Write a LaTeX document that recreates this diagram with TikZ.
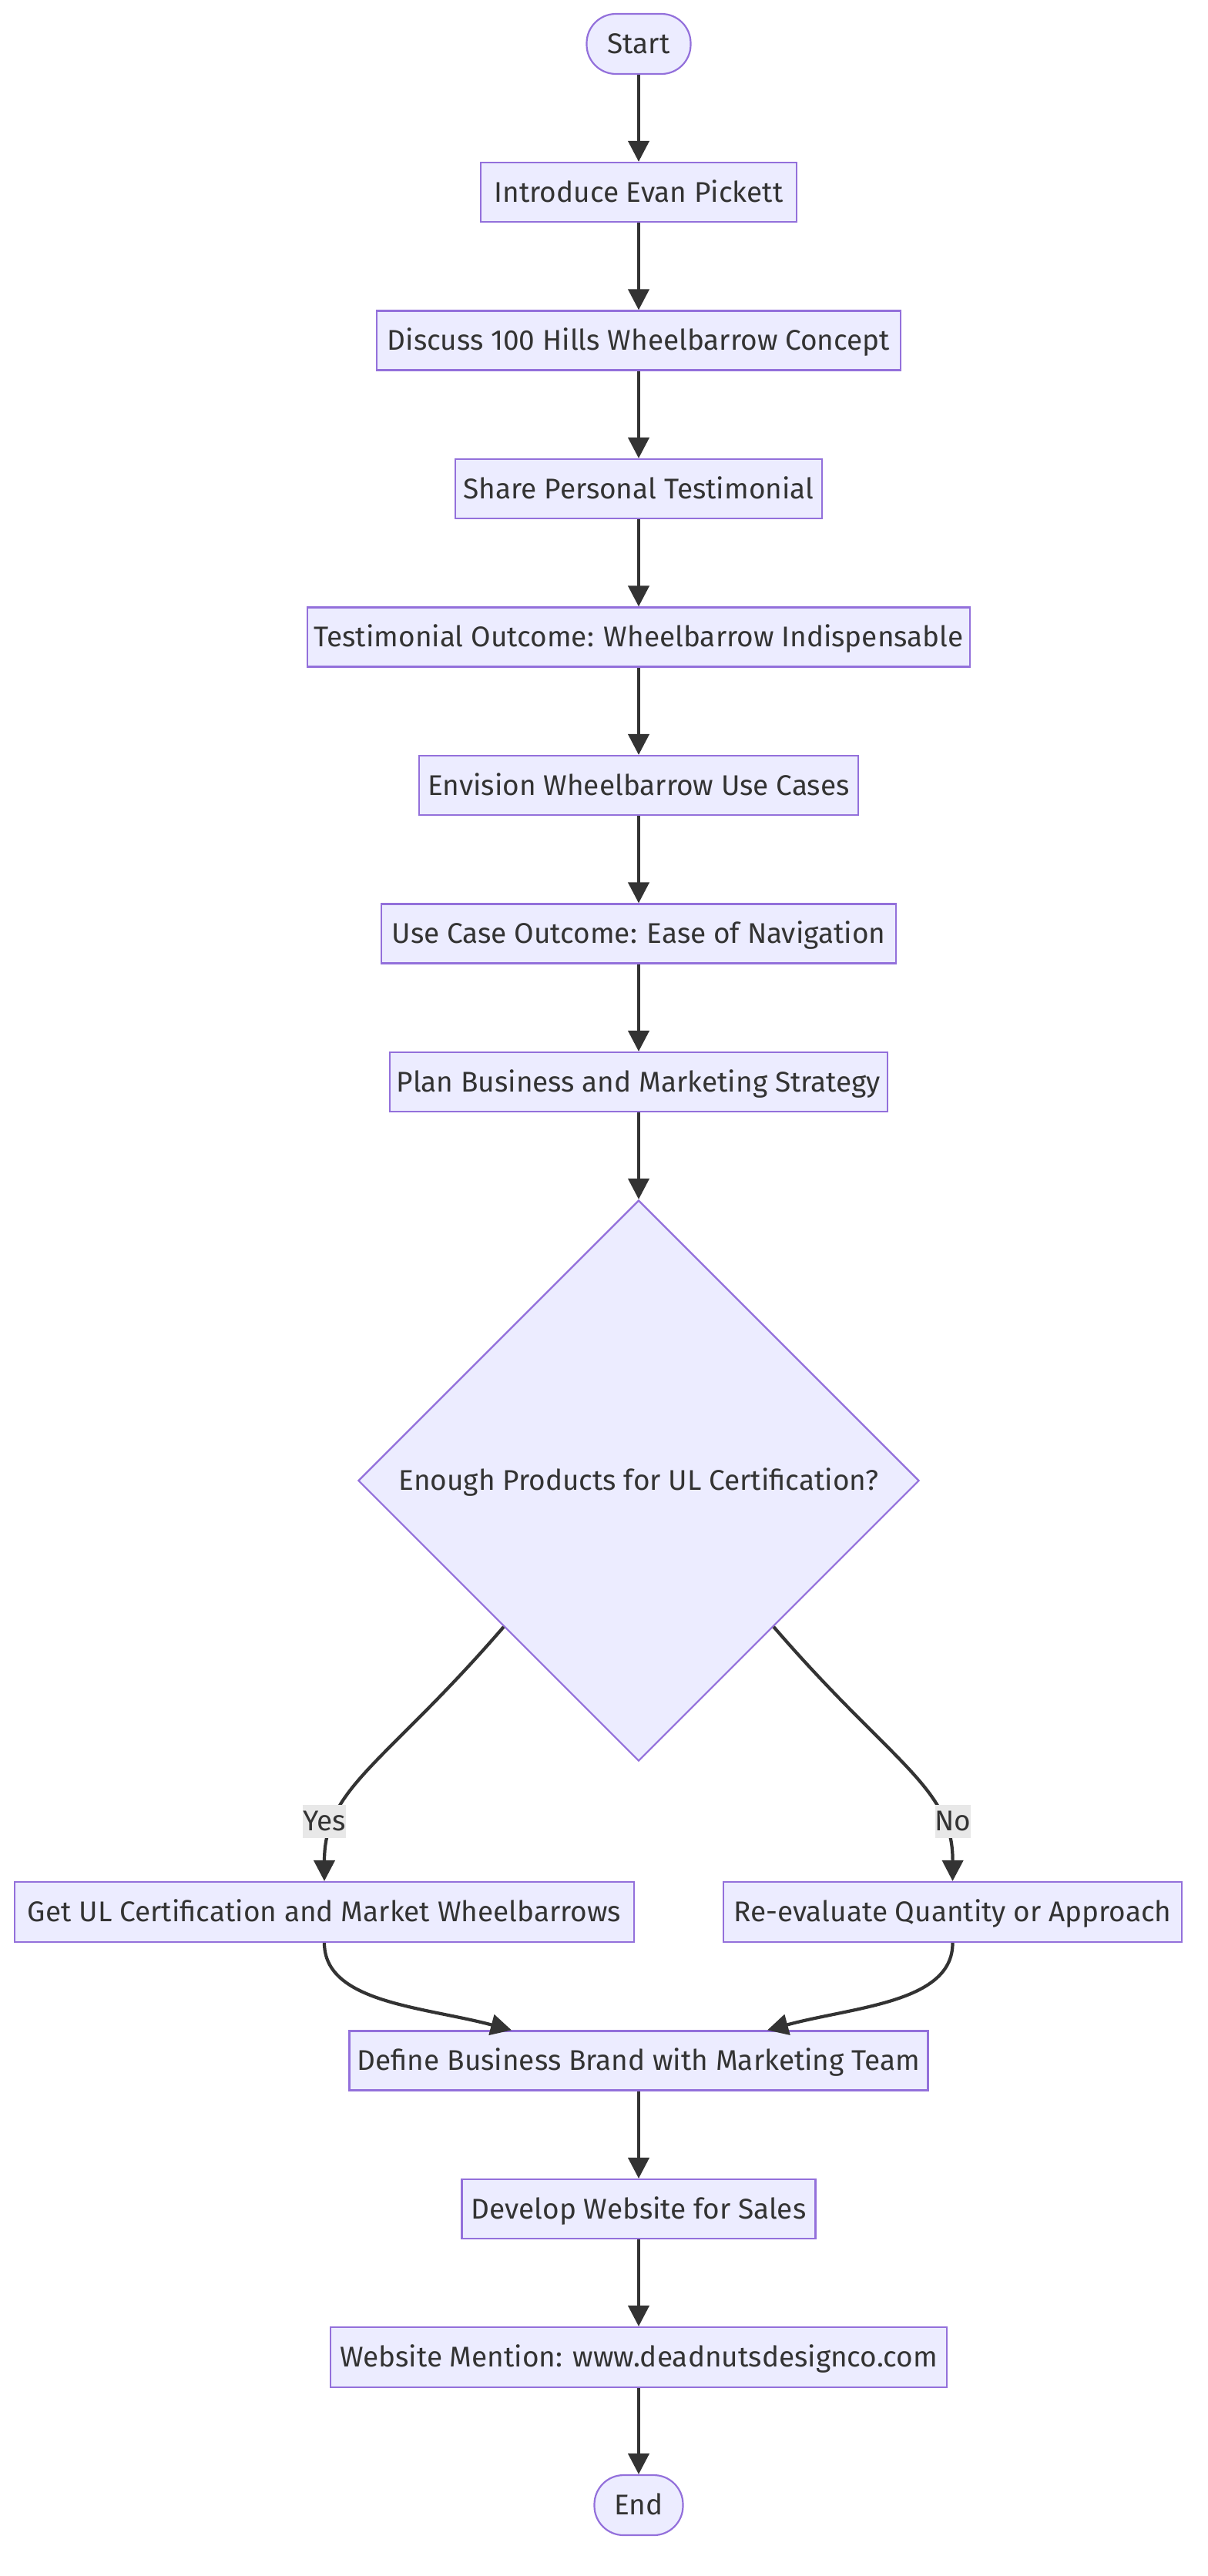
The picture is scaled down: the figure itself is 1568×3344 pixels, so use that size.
\documentclass[tikz,border=0pt]{standalone}
\usepackage{fontspec}
\setmainfont{Fira Sans}
\usetikzlibrary{shapes.geometric,arrows.meta,calc}
\definecolor{nodefill}{HTML}{ECECFF}
\definecolor{nodeline}{HTML}{9370DB}
\definecolor{edgecol}{HTML}{333333}
\definecolor{labelbg}{HTML}{E8E8E8}
\tikzset{
  every node/.style={font=\fontsize{37}{44}\selectfont, text=edgecol},
  procbox/.style={draw=nodeline, fill=nodefill, line width=2.2pt, rectangle,
    minimum height=77pt, inner sep=0pt, text height=30pt, text depth=4.5pt},
  termbox/.style={procbox, rounded corners=38pt, minimum height=78pt},
  decbox/.style={draw=nodeline, fill=nodefill, line width=2.2pt, diamond, aspect=1,
    minimum width=728pt, minimum height=728pt, inner sep=0pt, text height=30pt, text depth=4.5pt},
  edgelabel/.style={fill=labelbg, inner sep=0pt, minimum height=43pt, text height=30pt, text depth=4.5pt},
  arr/.style={draw=edgecol, line width=4.2pt, -{Triangle[length=27pt,width=27pt]}},
}
\begin{document}
\begin{tikzpicture}[x=1pt,y=-1pt]
\useasboundingbox (0,0) rectangle (1568,3344);
\node[termbox, minimum width=135pt] (start) at (829,57) {Start};
\node[procbox, minimum width=410pt] (intro) at (829,249.5) {Introduce Evan Pickett};
\node[procbox, minimum width=680pt] (discuss) at (829,442) {Discuss 100 Hills Wheelbarrow Concept};
\node[procbox, minimum width=476pt] (share) at (829,634.5) {Share Personal Testimonial};
\node[procbox, minimum width=860pt] (outcome) at (829,827) {Testimonial Outcome: Wheelbarrow Indispensable};
\node[procbox, minimum width=570pt] (envision) at (829,1019.5) {Envision Wheelbarrow Use Cases};
\node[procbox, minimum width=668pt] (usecase) at (829,1212) {Use Case Outcome: Ease of Navigation};
\node[procbox, minimum width=646pt] (plan) at (829,1404.5) {Plan Business and Marketing Strategy};
\node[decbox] (dec) at (829,1922) {Enough Products for UL Certification?};
\node[procbox, minimum width=804pt, minimum height=78pt] (getul) at (421,2482) {Get UL Certification and Market Wheelbarrows};
\node[procbox, minimum width=595pt, minimum height=78pt] (reeval) at (1236.5,2482) {Re-evaluate Quantity or Approach};
\node[procbox, minimum width=751pt] (define) at (829,2675) {Define Business Brand with Marketing Team};
\node[procbox, minimum width=459pt] (develop) at (829,2867.5) {Develop Website for Sales};
\node[procbox, minimum width=800pt, minimum height=78pt] (website) at (829,3060) {Website Mention: www.deadnutsdesignco.com};
\node[termbox, minimum width=115pt] (end) at (829,3252) {End};

\draw[arr] (start) -- (intro);
\draw[arr] (intro) -- (discuss);
\draw[arr] (discuss) -- (share);
\draw[arr] (share) -- (outcome);
\draw[arr] (outcome) -- (envision);
\draw[arr] (envision) -- (usecase);
\draw[arr] (usecase) -- (plan);
\draw[arr] (plan) -- (dec);
\draw[arr] ($(dec.west)!0.52!(dec.south)$) .. controls (500,2290) and (421,2320) .. (getul.north);
\draw[arr] ($(dec.east)!0.52!(dec.south)$) .. controls (1158,2290) and (1237,2320) .. (reeval.north);
\node[edgelabel, minimum width=51pt] (yes) at (421,2364) {Yes};
\node[edgelabel, minimum width=44pt] (no) at (1237,2364) {No};
\draw[arr] (getul.south) .. controls (421,2600) and (550,2605) .. ($(define.north)+(-165,0)$);
\draw[arr] (reeval.south) .. controls (1237,2600) and (1108,2605) .. ($(define.north)+(167,0)$);
\draw[arr] (define) -- (develop);
\draw[arr] (develop) -- (website);
\draw[arr] (website) -- (end);
\end{tikzpicture}
\end{document}
